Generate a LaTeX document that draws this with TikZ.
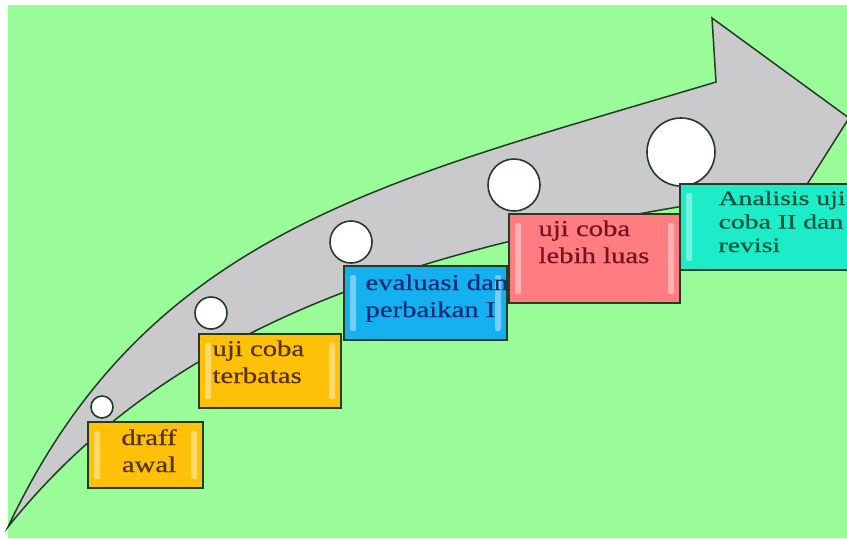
\documentclass[tikz,border=0pt]{standalone}
\usepackage{fontspec}
\setmainfont{Liberation Serif}[FakeBold=0.5]
\usepackage{xcolor}

\definecolor{bggreen}{RGB}{153,252,153}
\definecolor{arrowgray}{RGB}{202,202,205}
\definecolor{edgedark}{RGB}{35,60,35}
\definecolor{boxgold}{RGB}{255,192,10}
\definecolor{boxblue}{RGB}{20,176,240}
\definecolor{boxpink}{RGB}{255,124,128}
\definecolor{boxteal}{RGB}{28,236,200}
\definecolor{txtbrown}{RGB}{85,52,0}
\definecolor{txtblue}{RGB}{10,45,120}
\definecolor{txtred}{RGB}{115,20,30}
\definecolor{txtteal}{RGB}{8,85,62}

\tikzset{
  stepbox/.style={draw=edgedark, line width=1pt, anchor=north west, inner sep=0pt,
    path picture={
      \fill[white, opacity=0.4, rounded corners=1pt]
        ([xshift=3pt,yshift=-4.5pt]path picture bounding box.north west)
        rectangle ([xshift=6pt,yshift=4.5pt]path picture bounding box.south west);
      \fill[white, opacity=0.4, rounded corners=1pt]
        ([xshift=-3pt,yshift=-4.5pt]path picture bounding box.north east)
        rectangle ([xshift=-6pt,yshift=4.5pt]path picture bounding box.south east);
    }},
  dot/.style={circle, draw=edgedark, fill=white, line width=0.8pt, inner sep=0pt},
  steptext/.style={anchor=base west, align=left, inner sep=0pt,
    font=\fontsize{11.3}{13.5}\selectfont, xscale=1.27}
}

\begin{document}
\begin{tikzpicture}[x=0.5pt, y=-0.5pt]

\useasboundingbox (0,0) rectangle (847,538);
\clip (0,0) rectangle (847,538);

% Latar
\fill[white] (0,0) rectangle (847,538);
\fill[bggreen] (8,5) rectangle (847,538);

% Panah besar
\filldraw[fill=arrowgray, draw=edgedark, line width=0.75pt]
  (8,527) .. controls (148,230) and (386,181) .. (716,82)
  -- (712,18) -- (849,118) -- (758,262) -- (720,200)
  .. controls (440,245) and (178,314) .. (8,527) -- cycle;

% Lingkaran
\node[dot, minimum size=11pt] (c1) at (102,407) {};
\node[dot, minimum size=16pt] (c2) at (211,313) {};
\node[dot, minimum size=21pt] (c3) at (351,242) {};
\node[dot, minimum size=26pt] (c4) at (514,185) {};
\node[dot, minimum size=34pt] (c5) at (681,152) {};

% Tahap 1
\node[stepbox, fill=boxgold, minimum width=57.5pt, minimum height=33pt] (b1) at (87,421) {};
\node[steptext, anchor=base, align=center, text=txtbrown] (t1) at (149,472) {draff\\awal};

% Tahap 2
\node[stepbox, fill=boxgold, minimum width=71pt, minimum height=37pt] (b2) at (198,333) {};
\node[steptext, text=txtbrown] (t2) at (212,383) {uji coba\\terbatas};

% Tahap 3
\node[stepbox, fill=boxblue, minimum width=81.5pt, minimum height=37pt] (b3) at (343,265) {};
\node[steptext, text=txtblue] (t3) at (365,317) {evaluasi dan\\perbaikan I};

% Tahap 4
\node[stepbox, fill=boxpink, minimum width=85.5pt, minimum height=44.5pt] (b4) at (508,213) {};
\node[steptext, text=txtred] (t4) at (538,263) {uji coba\\lebih luas};

% Tahap 5
\node[stepbox, fill=boxteal, minimum width=93pt, minimum height=43pt] (b5) at (679,183) {};
\node[steptext, text=txtteal, font=\fontsize{10.2}{11.75}\selectfont, xscale=1.07] (t5) at (718,252)
  {Analisis uji\\coba II dan\\revisi};

\end{tikzpicture}
\end{document}
